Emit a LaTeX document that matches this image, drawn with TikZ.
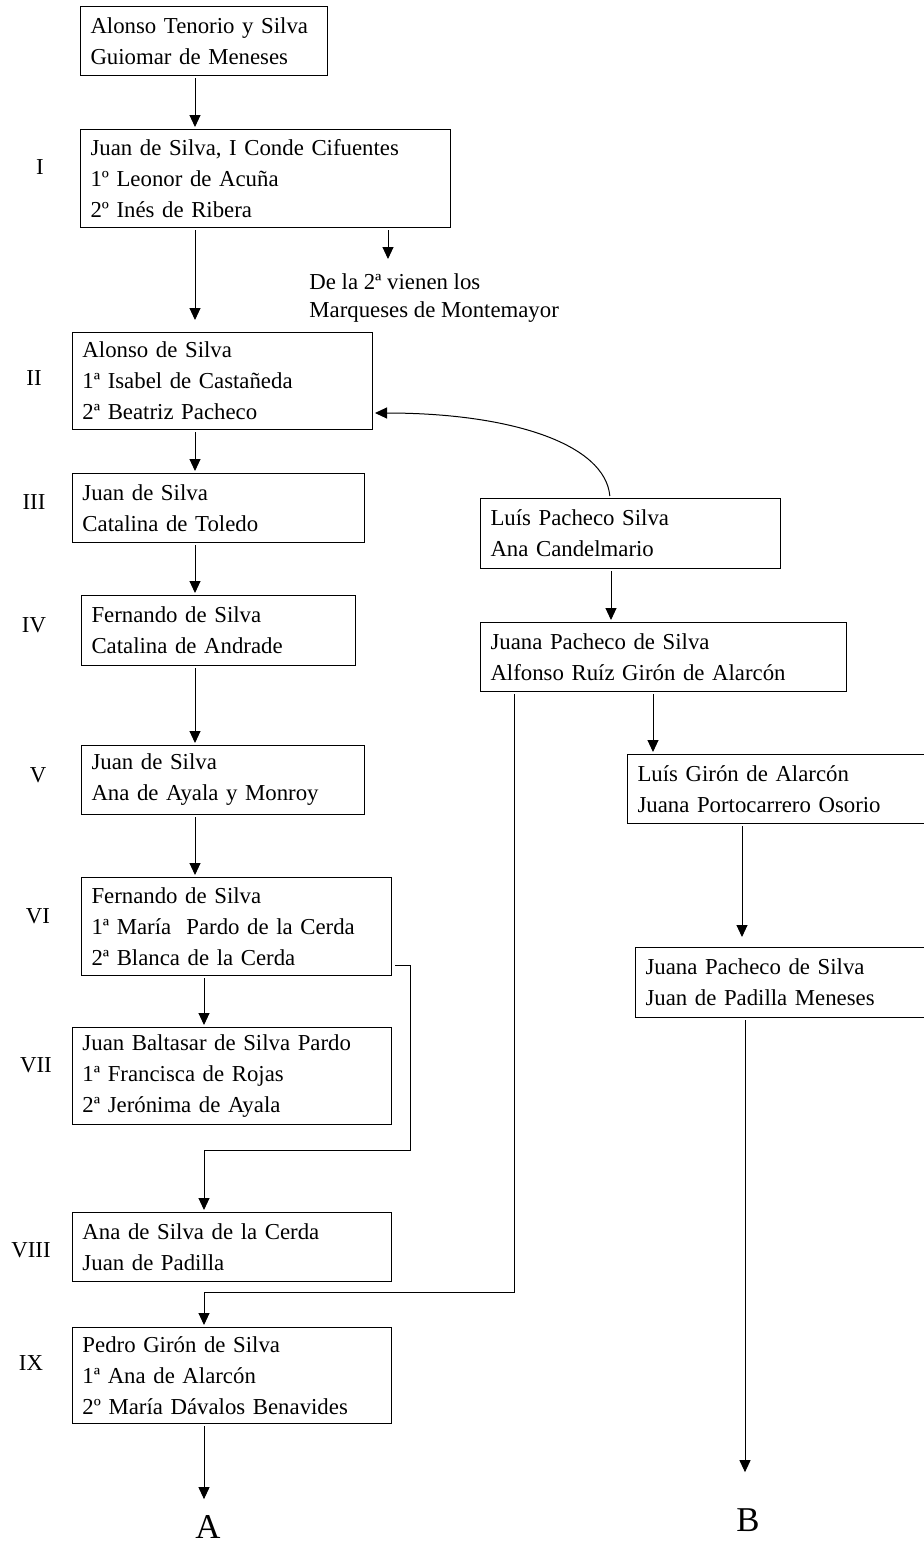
\documentclass[tikz,border=0pt]{standalone}
\usepackage{fontspec}
\setmainfont{Liberation Serif}
\usepackage{tikz}
\usetikzlibrary{calc}
\usetikzlibrary{positioning, arrows.meta}
\tikzstyle{arrow} = [->,>={Triangle[length=6pt,width=5.5pt]},line width=0.5pt]
\tikzstyle{person} = [draw,line width=0.5pt,anchor=north west,align=left,inner xsep=5pt,inner ysep=0pt,font=\fontsize{11.4}{15.5}\selectfont]
\tikzstyle{gen} = [font=\fontsize{11.4}{15}\selectfont]

\begin{document}
\begin{tikzpicture}[x=0.5pt,y=-0.5pt,shorten >=1pt,shorten <=1pt]
    \useasboundingbox (0,0) rectangle (924,1544);
    \clip (0,0) rectangle (924,1544);
    % left line
   	\node[person,text width=113.5pt,minimum height=34.5pt](b_0) at (80,6) {Alonso Tenorio y Silva\\Guiomar de Meneses};
   	\node[person,text width=175pt,minimum height=49pt](b_I) at (80,129) {Juan de Silva, I Conde Cifuentes\\1º Leonor de Acuña\\2º Inés de Ribera};
   	\node[gen,anchor=north west,inner sep=0pt,align=left,font=\fontsize{11.4}{14}\selectfont](note) at (309,273) {De la 2ª vienen los\\Marqueses de Montemayor};
   	\node[person,text width=140pt,minimum height=48.5pt](b_II) at (72,332) {Alonso de Silva\\1ª Isabel de Castañeda\\2ª Beatriz Pacheco};
   	\node[person,text width=136pt,minimum height=34.5pt](b_III) at (72,473) {Juan de Silva\\Catalina de Toledo};
   	\node[person,text width=127pt,minimum height=35pt](b_IV) at (81,595) {Fernando de Silva\\Catalina de Andrade};
   	\node[person,text width=131.5pt,minimum height=34.5pt](b_V) at (81,745) {Juan de Silva\\Ana de Ayala y Monroy};
   	\node[person,text width=145pt,minimum height=49pt](b_VI) at (81,877) {Fernando de Silva\\1ª María\ \ Pardo de la Cerda\\2ª Blanca de la Cerda};
   	\node[person,text width=149.5pt,minimum height=48.5pt](b_VII) at (72,1027) {Juan Baltasar de Silva Pardo\\1ª Francisca de Rojas\\2ª Jerónima de Ayala};
   	\node[person,text width=149.5pt,minimum height=34.5pt](b_VIII) at (72,1212) {Ana de Silva de la Cerda\\Juan de Padilla};
   	\node[person,text width=149.5pt,minimum height=48pt](b_IX) at (72,1327) {Pedro Girón de Silva\\1ª Ana de Alarcón\\2º María Dávalos Benavides};
   	\node[inner sep=0pt,font=\fontsize{17.4}{20}\selectfont](l_A) at (208,1527) {A};
    % right line
   	\node[person,text width=140pt,minimum height=35pt](b_luis) at (480,498) {Luís Pacheco Silva\\Ana Candelmario};
   	\node[person,text width=173pt,minimum height=34.5pt](b_juana) at (480,622) {Juana Pacheco de Silva\\Alfonso Ruíz Girón de Alarcón};
   	\node[person,text width=150pt,minimum height=34.5pt](b_giron) at (627,754) {Luís Girón de Alarcón\\Juana Portocarrero Osorio};
   	\node[person,text width=145pt,minimum height=35pt](b_juana2) at (635,947) {Juana Pacheco de Silva\\Juan de Padilla Meneses};
   	\node[inner sep=0pt,font=\fontsize{17.4}{20}\selectfont](l_B) at (748,1520) {B};
    % generations
    \node[gen](g_I) at (40,167) {I};
    \node[gen](g_II) at (34,378) {II};
    \node[gen](g_III) at (34,502) {III};
    \node[gen](g_IV) at (34,625) {IV};
    \node[gen](g_V) at (38,775) {V};
    \node[gen](g_VI) at (38,916) {VI};
    \node[gen](g_VII) at (36,1065) {VII};
    \node[gen](g_VIII) at (31,1250) {VIII};
    \node[gen](g_IX) at (31,1363) {IX};

    \draw[arrow] ($(b_0.south west)+(115,0)$) -- ($(b_I.north west)+(115,0)$);
    \draw[arrow,shorten >=6pt] ($(b_I.south west)+(115,0)$) coordinate (c_1) -- (c_1 |- b_II.north);
    \draw[arrow,shorten >=7pt] ($(b_I.south west)+(308,0)$) coordinate (c_2) -- (c_2 |- note.north);
    \draw[arrow] ($(b_II.south west)+(123,0)$) -- ($(b_III.north west)+(123,0)$);
    \draw[arrow] ($(b_III.south west)+(123,0)$) coordinate (c_3) -- (c_3 |- b_IV.north);
    \draw[arrow] ($(b_IV.south west)+(114,0)$) -- ($(b_V.north west)+(114,0)$);
    \draw[arrow] ($(b_V.south west)+(114,0)$) -- ($(b_VI.north west)+(114,0)$);
    \draw[arrow] ($(b_VI.south west)+(123,0)$) coordinate (c_4) -- (c_4 |- b_VII.north);
    \draw[arrow] ($(b_VI.south east)+(1,-11)$) -| ++(17,185) -| ($(b_VIII.north west)+(132,0)$);
    \draw[arrow,shorten >=8pt] ($(b_IX.south west)+(132,0)$) coordinate (c_5) -- (c_5 |- l_A.north);
    \draw[arrow] ($(b_luis.north west)+(130,0)$) to[out=95,in=0,out looseness=0.55,in looseness=1.4] ($(b_II.north east)+(0,81)$);
    \draw[arrow] ($(b_luis.south west)+(131,0)$) -- ($(b_juana.north west)+(131,0)$);
    \draw[arrow] ($(b_juana.south west)+(34,0)$) -- ++(0,600) -| ($(b_IX.north west)+(132,0)$);
    \draw[arrow] ($(b_juana.south west)+(173,0)$) coordinate (c_6) -- (c_6 |- b_giron.north);
    \draw[arrow,shorten >=5pt] ($(b_giron.south west)+(115,0)$) coordinate (c_7) -- (c_7 |- b_juana2.north);
    \draw[arrow,shorten >=18pt] ($(b_juana2.south west)+(110,0)$) coordinate (c_8) -- (c_8 |- l_B.north);
\end{tikzpicture}
\end{document}
